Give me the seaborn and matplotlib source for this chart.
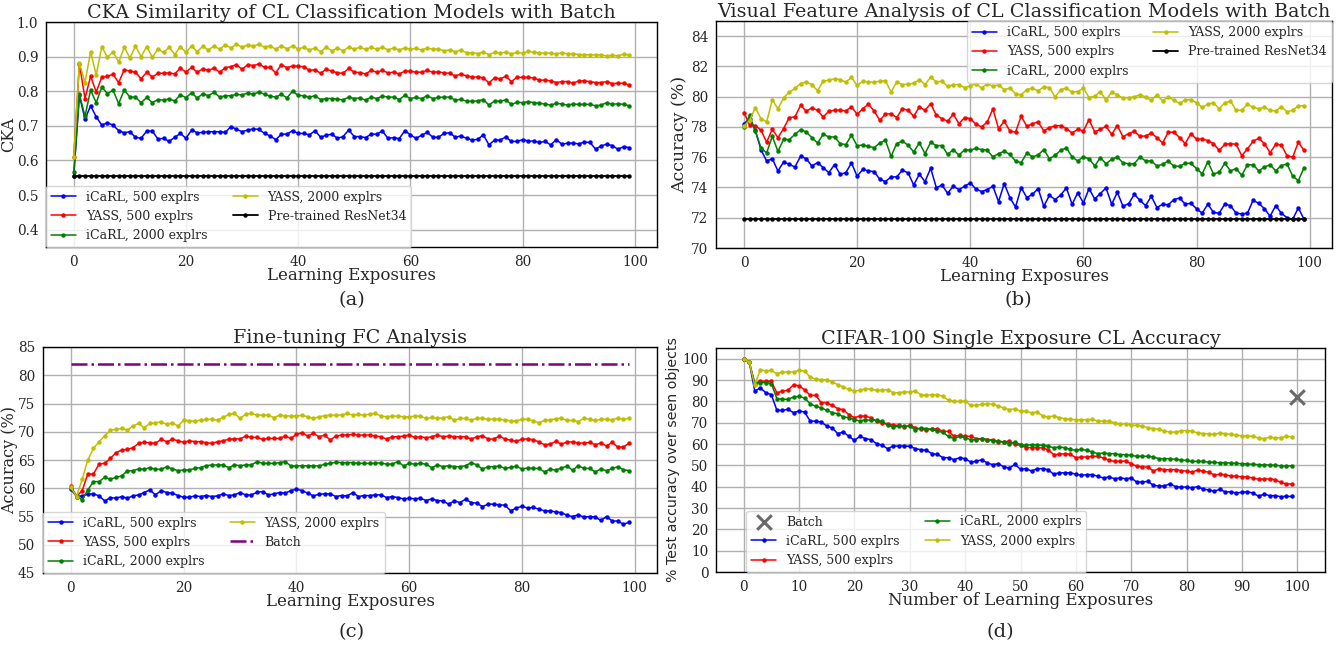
import matplotlib
matplotlib.use("Agg")
import matplotlib.pyplot as plt
import seaborn as sns

exposures = list(range(100))

# ---------------- (a) CKA similarity ----------------
cka_icarl500 = [0.556, 0.788, 0.719, 0.758, 0.726, 0.702, 0.709, 0.702, 0.686, 0.680,
                0.683, 0.667, 0.664, 0.685, 0.685, 0.662, 0.664, 0.655, 0.667, 0.678,
                0.664, 0.688, 0.680, 0.681, 0.683, 0.683, 0.683, 0.681, 0.698, 0.690,
                0.683, 0.688, 0.691, 0.690, 0.678, 0.671, 0.660, 0.676, 0.676, 0.686,
                0.678, 0.678, 0.674, 0.686, 0.667, 0.673, 0.676, 0.664, 0.669, 0.688,
                0.669, 0.669, 0.666, 0.676, 0.676, 0.685, 0.664, 0.666, 0.663, 0.686,
                0.674, 0.664, 0.673, 0.681, 0.667, 0.667, 0.678, 0.680, 0.667, 0.671,
                0.664, 0.659, 0.661, 0.674, 0.645, 0.659, 0.659, 0.668, 0.655, 0.655,
                0.660, 0.656, 0.656, 0.652, 0.655, 0.645, 0.660, 0.647, 0.650, 0.650,
                0.648, 0.653, 0.652, 0.633, 0.642, 0.647, 0.643, 0.632, 0.640, 0.637]
cka_yass500 = [0.610, 0.879, 0.779, 0.843, 0.798, 0.841, 0.843, 0.849, 0.825, 0.862,
               0.858, 0.855, 0.836, 0.855, 0.841, 0.852, 0.852, 0.853, 0.850, 0.867,
               0.855, 0.869, 0.855, 0.865, 0.860, 0.867, 0.855, 0.868, 0.871, 0.877,
               0.863, 0.877, 0.874, 0.879, 0.869, 0.869, 0.853, 0.877, 0.868, 0.873,
               0.872, 0.871, 0.860, 0.862, 0.852, 0.864, 0.858, 0.853, 0.852, 0.866,
               0.855, 0.854, 0.850, 0.860, 0.855, 0.860, 0.853, 0.855, 0.850, 0.858,
               0.858, 0.855, 0.855, 0.860, 0.855, 0.856, 0.853, 0.852, 0.844, 0.850,
               0.844, 0.841, 0.841, 0.839, 0.824, 0.839, 0.836, 0.843, 0.828, 0.840,
               0.840, 0.840, 0.838, 0.832, 0.832, 0.830, 0.825, 0.828, 0.828, 0.823,
               0.830, 0.830, 0.828, 0.825, 0.825, 0.828, 0.822, 0.823, 0.823, 0.818]
cka_icarl2000 = [0.566, 0.791, 0.728, 0.803, 0.767, 0.812, 0.793, 0.803, 0.764, 0.804,
                 0.783, 0.783, 0.767, 0.782, 0.767, 0.776, 0.774, 0.778, 0.772, 0.790,
                 0.781, 0.796, 0.780, 0.793, 0.787, 0.797, 0.783, 0.787, 0.787, 0.791,
                 0.789, 0.795, 0.791, 0.798, 0.791, 0.786, 0.783, 0.791, 0.781, 0.800,
                 0.788, 0.787, 0.783, 0.787, 0.776, 0.779, 0.779, 0.777, 0.775, 0.783,
                 0.779, 0.781, 0.774, 0.783, 0.779, 0.786, 0.783, 0.783, 0.776, 0.788,
                 0.779, 0.782, 0.779, 0.787, 0.779, 0.782, 0.783, 0.783, 0.774, 0.777,
                 0.771, 0.771, 0.772, 0.776, 0.760, 0.772, 0.771, 0.775, 0.762, 0.768,
                 0.767, 0.770, 0.767, 0.765, 0.763, 0.760, 0.765, 0.763, 0.760, 0.763,
                 0.762, 0.762, 0.762, 0.758, 0.760, 0.767, 0.762, 0.764, 0.762, 0.758]
cka_yass2000 = [0.610, 0.882, 0.825, 0.914, 0.847, 0.929, 0.898, 0.914, 0.884, 0.927,
                0.896, 0.930, 0.900, 0.929, 0.898, 0.922, 0.912, 0.927, 0.906, 0.929,
                0.912, 0.931, 0.914, 0.930, 0.919, 0.931, 0.921, 0.934, 0.925, 0.936,
                0.927, 0.934, 0.930, 0.936, 0.927, 0.931, 0.921, 0.932, 0.922, 0.931,
                0.922, 0.927, 0.919, 0.925, 0.914, 0.927, 0.917, 0.925, 0.917, 0.927,
                0.922, 0.927, 0.921, 0.927, 0.921, 0.927, 0.919, 0.925, 0.919, 0.925,
                0.921, 0.924, 0.919, 0.925, 0.921, 0.922, 0.917, 0.919, 0.914, 0.919,
                0.911, 0.911, 0.909, 0.913, 0.906, 0.912, 0.910, 0.913, 0.908, 0.912,
                0.910, 0.915, 0.912, 0.911, 0.910, 0.910, 0.908, 0.911, 0.908, 0.909,
                0.906, 0.906, 0.905, 0.905, 0.905, 0.902, 0.904, 0.902, 0.907, 0.905]
cka_resnet34 = 0.555

# ---------------- (b) visual feature analysis ----------------
vf_icarl500 = [78.22, 78.55, 77.78, 76.50, 75.75, 75.90, 75.09, 75.68, 75.53, 75.35,
               76.06, 75.90, 75.42, 75.64, 75.31, 74.98, 75.51, 74.87, 74.98, 75.62,
               74.74, 75.20, 75.09, 75.05, 74.54, 74.39, 74.70, 74.70, 75.14, 74.96,
               74.17, 74.87, 74.39, 75.27, 73.99, 74.15, 73.62, 74.08, 73.86, 74.08,
               74.30, 73.90, 73.73, 73.86, 74.08, 73.06, 74.26, 73.33, 72.71, 73.99,
               73.33, 73.55, 73.92, 72.76, 73.48, 73.20, 73.51, 73.97, 72.89, 73.64,
               72.98, 73.92, 73.24, 73.60, 73.97, 72.89, 73.68, 72.76, 72.93, 73.55,
               73.15, 72.80, 73.42, 72.67, 72.89, 72.85, 73.20, 73.30, 72.90, 72.95,
               72.60, 72.30, 72.90, 72.35, 72.30, 72.90, 72.80, 72.30, 72.25, 72.30,
               73.15, 72.95, 72.60, 72.10, 72.80, 72.30, 72.00, 71.90, 72.65, 71.90]
vf_yass500 = [78.95, 78.11, 78.09, 77.78, 77.00, 77.84, 77.29, 77.89, 78.62, 78.66,
              79.43, 79.04, 79.26, 79.10, 78.66, 79.04, 79.10, 79.10, 79.06, 79.32,
              78.84, 79.21, 79.50, 79.06, 78.44, 78.84, 78.88, 78.62, 79.21, 79.10,
              78.71, 79.32, 79.10, 79.54, 78.77, 78.55, 78.38, 78.84, 78.22, 78.62,
              78.55, 78.18, 78.00, 78.33, 79.19, 77.89, 78.37, 77.74, 77.65, 78.71,
              78.04, 78.22, 78.33, 77.74, 77.96, 78.07, 78.09, 77.89, 77.60, 77.84,
              77.74, 78.48, 77.67, 77.84, 78.04, 77.51, 78.09, 77.34, 77.56, 77.71,
              77.38, 77.40, 77.60, 77.29, 76.94, 77.65, 77.65, 77.30, 76.90, 77.55,
              77.20, 77.20, 77.10, 76.90, 76.45, 76.85, 76.90, 76.85, 76.10, 76.55,
              77.05, 77.25, 76.90, 76.30, 76.85, 76.80, 76.10, 76.00, 77.00, 76.45]
vf_icarl2000 = [78.00, 78.77, 77.71, 76.63, 76.28, 77.38, 76.39, 77.18, 77.16, 77.51,
                77.82, 77.67, 77.29, 76.94, 77.51, 77.34, 77.34, 76.90, 76.83, 77.45,
                76.75, 76.81, 76.72, 76.63, 76.94, 77.12, 76.06, 76.90, 77.07, 76.79,
                76.35, 76.94, 76.24, 76.98, 76.77, 76.77, 76.18, 76.50, 76.13, 76.50,
                76.46, 76.59, 76.50, 76.46, 76.02, 76.24, 76.39, 76.19, 75.75, 75.64,
                76.28, 76.02, 76.15, 76.50, 75.90, 76.13, 76.46, 76.61, 76.02, 75.75,
                76.02, 75.90, 75.42, 75.97, 75.57, 75.86, 76.02, 75.62, 75.57, 75.57,
                76.02, 75.75, 75.75, 75.42, 75.53, 75.75, 75.40, 75.40, 75.60, 75.60,
                75.25, 74.90, 75.70, 74.90, 75.00, 75.60, 75.10, 75.25, 74.80, 75.50,
                75.50, 75.10, 75.35, 75.50, 75.10, 75.45, 75.55, 74.75, 74.45, 75.30]
vf_yass2000 = [78.05, 78.44, 79.28, 78.55, 78.33, 79.80, 79.20, 79.92, 80.30, 80.54,
               80.87, 80.98, 80.80, 80.40, 81.03, 81.09, 81.18, 81.13, 80.96, 81.27,
               80.74, 81.02, 80.98, 80.96, 81.02, 81.05, 80.31, 80.98, 80.80, 80.83,
               80.89, 81.13, 80.80, 81.29, 80.98, 81.02, 80.68, 80.80, 80.80, 80.60,
               80.71, 80.87, 80.56, 80.87, 80.69, 80.78, 80.47, 80.56, 80.20, 80.12,
               80.47, 80.56, 80.38, 80.65, 80.60, 79.98, 80.47, 80.56, 80.30, 80.34,
               80.56, 79.94, 80.03, 80.34, 79.77, 80.30, 80.12, 79.90, 79.94, 79.98,
               80.14, 79.98, 79.77, 80.12, 79.72, 79.98, 79.77, 79.55, 79.80, 79.80,
               79.60, 79.30, 79.50, 79.60, 79.20, 79.60, 79.70, 79.10, 79.10, 79.50,
               79.30, 79.20, 79.30, 79.10, 79.05, 79.35, 79.00, 79.10, 79.40, 79.40]
vf_resnet34 = 71.9

# ---------------- (c) fine-tuning FC ----------------
fc_icarl500 = [59.82, 58.53, 58.65, 58.94, 59.00, 58.65, 57.76, 58.35, 58.24, 58.53,
               58.24, 58.65, 58.82, 59.24, 59.71, 58.82, 59.59, 59.24, 59.12, 58.71,
               58.41, 58.41, 58.65, 58.53, 58.71, 58.53, 58.65, 59.00, 58.71, 58.82,
               59.24, 58.82, 58.82, 59.29, 59.41, 58.82, 59.00, 59.24, 59.12, 59.59,
               59.82, 59.59, 59.12, 58.65, 58.94, 59.00, 59.00, 58.53, 58.71, 58.65,
               59.24, 58.53, 58.71, 58.71, 58.82, 58.82, 58.35, 58.53, 58.35, 58.12,
               58.24, 58.12, 58.24, 57.82, 58.12, 57.82, 57.76, 57.18, 57.76, 57.47,
               58.06, 57.47, 57.35, 56.76, 57.18, 57.18, 57.06, 57.00, 56.00, 56.50,
               56.80, 56.50, 56.60, 56.30, 56.00, 56.00, 55.80, 55.70, 55.20, 55.00,
               55.30, 54.90, 55.00, 54.90, 54.30, 55.00, 54.20, 54.20, 53.60, 54.00]
fc_yass500 = [60.41, 58.53, 59.59, 62.53, 62.53, 64.29, 64.41, 65.29, 66.29, 66.76,
              66.88, 67.18, 67.94, 68.12, 68.06, 67.94, 68.65, 68.24, 68.65, 68.41,
              68.12, 68.41, 68.24, 68.24, 68.06, 67.94, 68.24, 68.41, 68.65, 68.76,
              68.71, 69.24, 69.00, 69.00, 68.65, 68.82, 68.82, 68.82, 69.24, 68.82,
              69.53, 69.82, 69.24, 69.71, 69.12, 69.41, 68.53, 69.24, 69.41, 69.41,
              69.53, 69.41, 69.41, 69.41, 69.24, 69.12, 68.71, 69.12, 69.12, 69.24,
              69.41, 69.00, 69.12, 68.94, 69.12, 69.41, 69.12, 69.24, 69.12, 69.12,
              69.12, 68.71, 69.12, 69.29, 68.71, 68.71, 69.24, 68.70, 68.50, 68.30,
              68.70, 68.70, 68.60, 68.20, 67.70, 67.80, 68.30, 67.80, 68.20, 68.20,
              68.00, 68.00, 68.10, 67.70, 68.00, 67.50, 68.10, 67.30, 67.30, 68.00]
fc_icarl2000 = [60.00, 58.65, 57.94, 59.71, 61.18, 61.18, 61.94, 61.59, 61.94, 62.18,
                63.06, 63.12, 63.41, 63.35, 63.65, 63.35, 63.35, 63.82, 63.41, 63.12,
                63.24, 63.24, 63.53, 63.65, 64.00, 64.12, 64.12, 64.12, 63.65, 64.12,
                64.00, 64.12, 64.12, 64.71, 64.41, 64.41, 64.41, 64.53, 64.71, 63.94,
                63.94, 64.00, 63.94, 64.00, 63.94, 64.24, 64.41, 64.59, 64.53, 64.53,
                64.53, 64.41, 64.41, 64.41, 64.41, 64.53, 64.24, 64.29, 64.71, 63.94,
                64.41, 64.24, 64.41, 64.24, 63.65, 64.12, 63.82, 64.00, 63.82, 63.82,
                64.00, 64.53, 64.12, 63.41, 63.82, 63.82, 63.94, 63.50, 63.70, 63.90,
                63.40, 63.60, 63.50, 63.50, 62.90, 63.40, 63.20, 63.60, 63.90, 63.20,
                64.00, 63.50, 63.50, 62.90, 63.40, 63.10, 63.50, 63.80, 63.30, 63.10]
fc_yass2000 = [60.18, 58.53, 61.59, 65.00, 67.06, 68.24, 69.29, 70.29, 70.41, 70.59,
               70.29, 71.00, 71.47, 70.71, 71.47, 71.59, 71.76, 71.29, 71.59, 71.00,
               72.06, 71.94, 71.88, 72.06, 72.18, 72.18, 72.06, 72.53, 73.06, 73.24,
               72.35, 73.12, 73.24, 72.94, 72.94, 72.94, 72.50, 72.94, 72.82, 72.76,
               72.76, 72.94, 72.65, 72.35, 72.65, 72.82, 72.94, 72.94, 72.94, 73.24,
               72.94, 73.06, 72.94, 73.12, 73.24, 72.76, 72.65, 72.76, 72.76, 72.65,
               72.65, 72.76, 72.76, 72.35, 72.53, 72.35, 72.47, 72.65, 72.06, 72.35,
               72.35, 72.06, 72.35, 72.35, 72.18, 72.24, 72.18, 72.10, 71.90, 71.90,
               72.20, 72.20, 71.90, 71.60, 72.00, 72.10, 72.30, 72.40, 72.00, 72.00,
               71.80, 72.40, 72.20, 72.00, 72.20, 72.20, 72.10, 72.40, 72.20, 72.40]
fc_batch = 82.0

# ---------------- (d) CIFAR-100 single exposure ----------------
se_icarl500 = [100.0, 98.44, 84.84, 86.25, 84.06, 83.13, 75.78, 75.78, 76.25, 74.69,
               75.47, 75.00, 70.78, 70.63, 70.31, 68.44, 67.50, 64.84, 65.63, 63.59,
               61.72, 63.59, 62.50, 62.03, 60.16, 59.38, 57.81, 59.06, 59.06, 59.06,
               58.91, 57.81, 57.34, 57.03, 55.47, 55.16, 53.59, 53.59, 52.66, 53.59,
               53.13, 51.56, 51.88, 52.66, 51.09, 50.31, 50.78, 49.22, 48.75, 50.47,
               48.13, 48.44, 47.34, 48.44, 48.44, 47.97, 45.78, 46.56, 46.41, 46.56,
               45.78, 45.31, 45.63, 45.63, 44.84, 44.06, 44.53, 43.75, 44.06, 43.75,
               44.06, 42.19, 42.19, 42.50, 40.63, 40.31, 40.31, 41.41, 40.00, 39.80,
               39.80, 39.50, 40.00, 38.80, 38.50, 37.80, 38.80, 37.50, 37.60, 37.00,
               37.40, 37.60, 37.00, 35.50, 36.50, 35.80, 35.80, 35.30, 35.50, 35.40]
se_yass500 = [100.0, 98.44, 88.28, 89.53, 89.38, 89.38, 83.91, 84.84, 85.16, 87.81,
              87.19, 85.47, 82.81, 82.81, 79.38, 79.22, 78.13, 76.56, 76.09, 73.75,
              72.34, 73.13, 72.97, 72.34, 70.63, 69.84, 69.53, 68.75, 68.75, 67.97,
              68.75, 67.66, 66.88, 66.72, 66.88, 67.19, 65.90, 65.90, 63.59, 64.06,
              63.59, 63.59, 62.50, 62.50, 62.03, 62.03, 60.94, 60.94, 61.41, 59.84,
              59.38, 58.28, 58.28, 58.28, 58.13, 57.34, 55.00, 55.16, 55.47, 55.16,
              53.59, 53.91, 53.91, 54.22, 54.22, 53.44, 52.34, 51.88, 51.88, 52.03,
              50.78, 49.53, 49.22, 49.22, 47.34, 48.44, 47.97, 47.97, 48.00, 47.50,
              47.30, 46.80, 47.80, 47.20, 46.80, 45.50, 45.80, 45.60, 45.00, 44.90,
              44.60, 44.60, 44.00, 43.50, 43.60, 43.60, 43.30, 42.00, 41.30, 41.30]
se_icarl2000 = [100.0, 98.44, 88.59, 88.75, 88.75, 88.28, 81.25, 80.94, 80.94, 82.03,
                82.34, 81.56, 78.91, 77.66, 77.03, 75.78, 74.69, 74.22, 72.66, 72.34,
                71.41, 70.78, 71.41, 71.09, 71.09, 70.63, 68.75, 67.97, 68.28, 68.28,
                68.28, 66.72, 67.50, 67.19, 66.88, 66.09, 65.40, 63.59, 62.50, 63.59,
                62.97, 62.03, 62.03, 62.50, 62.03, 61.41, 61.41, 60.94, 60.16, 60.94,
                59.69, 59.38, 59.69, 59.69, 59.38, 58.91, 58.28, 58.59, 58.28, 57.50,
                57.03, 57.50, 57.03, 56.25, 55.47, 55.78, 55.47, 55.47, 55.00, 55.00,
                54.69, 54.22, 54.22, 54.22, 53.91, 53.13, 53.13, 53.13, 52.80, 52.50,
                52.30, 51.80, 51.90, 51.80, 51.50, 51.40, 51.20, 51.30, 51.00, 50.90,
                50.80, 50.60, 50.50, 50.30, 50.20, 50.20, 50.00, 49.80, 49.70, 49.80]
se_yass2000 = [100.0, 98.44, 87.50, 94.84, 94.22, 94.53, 92.97, 93.75, 93.75, 93.75,
               94.53, 94.22, 91.41, 90.31, 90.16, 90.16, 89.06, 87.81, 86.72, 85.60,
               84.84, 85.16, 85.94, 85.63, 85.16, 85.16, 85.47, 84.06, 84.06, 84.38,
               84.38, 84.84, 83.13, 82.81, 83.13, 83.13, 82.34, 80.47, 80.00, 80.00,
               80.16, 78.13, 78.13, 78.59, 78.91, 78.59, 77.81, 76.88, 76.09, 76.56,
               75.31, 75.47, 74.53, 75.00, 73.13, 72.66, 73.13, 72.34, 71.88, 71.56,
               71.41, 71.41, 71.41, 71.56, 70.63, 70.78, 70.63, 70.00, 69.22, 69.53,
               68.75, 68.75, 68.28, 67.66, 67.19, 66.88, 66.09, 65.63, 65.50, 66.20,
               66.30, 66.00, 65.20, 64.90, 64.80, 64.50, 65.20, 64.80, 64.50, 64.30,
               63.70, 63.70, 63.60, 62.80, 62.50, 63.20, 62.80, 63.00, 63.60, 63.40]
se_batch_x = [100]
se_batch_y = [82.0]

labels = ["iCaRL, 500 explrs", "YASS, 500 explrs", "iCaRL, 2000 explrs", "YASS, 2000 explrs"]
colors = ["blue", "red", "green", "#bfbf00"]

sns.set_style("whitegrid", {"axes.edgecolor": "black", "grid.color": "#b0b0b0",
                            "axes.linewidth": 1.0})
plt.rcParams["font.family"] = ["DejaVu Serif", "DejaVu Sans"]
plt.rcParams["mathtext.fontset"] = "dejavuserif"

W, H = 1337, 646
fig = plt.figure(figsize=(W / 100, H / 100), dpi=100)


def box(l, t, r, b):
    return [l / W, 1 - b / H, (r - l) / W, (b - t) / H]


ax_a = fig.add_axes(box(46, 22, 657, 247))
ax_b = fig.add_axes(box(716, 21, 1332, 248))
ax_c = fig.add_axes(box(43, 347, 657, 573))
ax_d = fig.add_axes(box(716, 348, 1325, 572))

TITLE_FS = 13.8
XLABEL_FS = 12
YLABEL_FS = 12.5
TICK_FS = 9.8
LEG_FS = 9.0


def series(ax, y, color, label, lw=1.1, ms=3.2):
    sns.lineplot(x=exposures, y=y, color=color, label=label, marker="o",
                 markersize=ms, markeredgewidth=0, linewidth=lw, ax=ax)


def style(ax, title, xlabel, ylabel, ylabel_fs=YLABEL_FS, ylabel_family=None, ypad=2):
    ax.set_title(title, fontsize=TITLE_FS, pad=3)
    ax.set_xlabel(xlabel, fontsize=XLABEL_FS, labelpad=-1)
    kw = {}
    if ylabel_family:
        kw["family"] = ylabel_family
    ax.set_ylabel(ylabel, fontsize=ylabel_fs, labelpad=ypad, **kw)
    ax.tick_params(labelsize=TICK_FS, pad=2)
    for s in ax.spines.values():
        s.set_color("black")
        s.set_linewidth(1.0)
    ax.grid(True, color="#b0b0b0", linewidth=1.0)


# (a)
for y, c, lab in zip([cka_icarl500, cka_yass500, cka_icarl2000, cka_yass2000], colors, labels):
    series(ax_a, y, c, lab)
series(ax_a, [cka_resnet34] * len(exposures), "black", "Pre-trained ResNet34", lw=1.3)
ax_a.set_ylim(0.35, 1.0)
ax_a.set_yticks([0.4, 0.5, 0.6, 0.7, 0.8, 0.9, 1.0])
ax_a.set_xticks([0, 20, 40, 60, 80, 100])
style(ax_a, "CKA Similarity of CL Classification Models with Batch", "Learning Exposures", "CKA",
      ylabel_fs=11.5, ypad=0)
ax_a.legend(ncol=2, loc="lower left", borderaxespad=0, fontsize=LEG_FS,
            framealpha=0.8, edgecolor="0.8", columnspacing=2.0)

# (b)
for y, c, lab in zip([vf_icarl500, vf_yass500, vf_icarl2000, vf_yass2000], colors, labels):
    series(ax_b, y, c, lab)
series(ax_b, [vf_resnet34] * len(exposures), "black", "Pre-trained ResNet34", lw=1.3)
ax_b.set_ylim(70, 85)
ax_b.set_yticks(list(range(70, 85, 2)))
ax_b.set_xticks([0, 20, 40, 60, 80, 100])
style(ax_b, "Visual Feature Analysis of CL Classification Models with Batch",
      "Learning Exposures", "Accuracy (%)")
ax_b.legend(ncol=2, loc="upper right", borderaxespad=0, fontsize=LEG_FS,
            framealpha=0.8, edgecolor="0.8", columnspacing=2.0)

# (c)
for y, c, lab in zip([fc_icarl500, fc_yass500, fc_icarl2000, fc_yass2000], colors, labels):
    series(ax_c, y, c, lab)
sns.lineplot(x=exposures, y=[fc_batch] * len(exposures), color="purple", label="Batch",
             linestyle="-.", linewidth=1.8, ax=ax_c)
ax_c.set_ylim(45, 85)
ax_c.set_yticks(list(range(45, 86, 5)))
ax_c.set_xticks([0, 20, 40, 60, 80, 100])
style(ax_c, "Fine-tuning FC Analysis", "Learning Exposures", "Accuracy (%)",
      ylabel_fs=11.5, ypad=0)
ax_c.legend(ncol=2, loc="lower left", borderaxespad=0, fontsize=LEG_FS,
            framealpha=0.8, edgecolor="0.8", columnspacing=2.0)

# (d)
sns.scatterplot(x=se_batch_x, y=se_batch_y, marker="x", s=110, color="dimgray",
                linewidth=2.2, label="Batch", ax=ax_d, zorder=5)
for y, c, lab in zip([se_icarl500, se_yass500, se_icarl2000, se_yass2000], colors, labels):
    series(ax_d, y, c, lab)
ax_d.set_xlim(-5, 105)
ax_d.set_ylim(0, 105)
ax_d.set_yticks(list(range(0, 101, 10)))
ax_d.set_xticks(list(range(0, 101, 10)))
style(ax_d, "CIFAR-100 Single Exposure CL Accuracy", "Number of Learning Exposures",
      "% Test accuracy over seen objects", ylabel_fs=10.2, ylabel_family=["DejaVu Sans"])
ax_d.legend(ncol=2, loc="lower left", bbox_to_anchor=(0.05, 0.0), borderaxespad=0,
            fontsize=LEG_FS, framealpha=0.8, edgecolor="0.8", columnspacing=2.0)

# sub-captions
for x, y, t in [(352, 300, "(a)"), (1018, 300, "(b)"), (352, 632, "(c)"), (1000, 632, "(d)")]:
    fig.text(x / W, 1 - y / H, t, ha="center", va="center", fontsize=14)

fig.savefig("out.png", dpi=100)
